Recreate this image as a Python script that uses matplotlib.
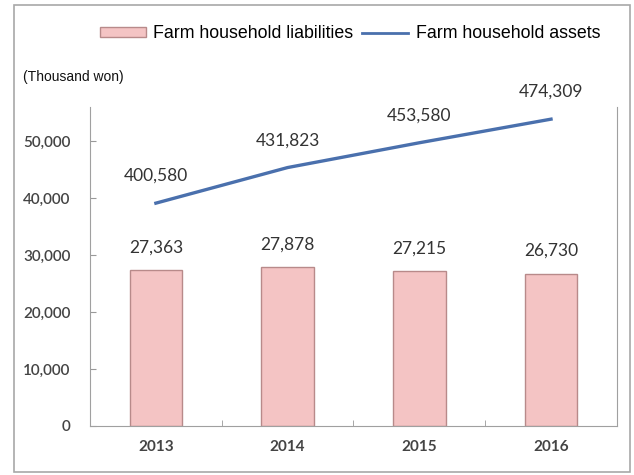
import matplotlib
matplotlib.use("Agg")
import matplotlib.pyplot as plt
from matplotlib.patches import Rectangle, Patch
from matplotlib.lines import Line2D

years = ["2013", "2014", "2015", "2016"]
liabilities = [27363, 27878, 27215, 26730]
assets = [400580, 431823, 453580, 474309]
yticks = [0, 10000, 20000, 30000, 40000, 50000]

narrow = "Liberation Sans"
numfont = "Lato"

fig = plt.figure(figsize=(6.34, 4.75), dpi=100)
ax = fig.add_axes([0.1420, 0.1032, 0.8310, 0.6716])

x = [i + 0.5 for i in range(len(years))]
ax.bar(x, liabilities, width=0.4, color="#f4c4c4", edgecolor="#b88a8a", linewidth=1.0, zorder=2)
ax.set_xlim(0, 4)
ax.set_ylim(0, 56000)
ax.set_yticks(yticks)
ax.set_yticklabels([f"{v:,}" for v in yticks], fontfamily=numfont, fontsize=11,
                   color="#444444", fontweight="semibold")
ax.set_xticks(x)
ax.set_xticklabels(years, fontfamily=numfont, fontsize=11, color="#444444", fontweight="bold")
ax.tick_params(axis="x", length=0, pad=10)
ax.set_xticks([1, 2, 3], minor=True)
ax.tick_params(axis="x", which="minor", length=4, direction="in", color="#999999")
ax.tick_params(axis="y", length=4, direction="in", color="#999999", pad=14)
for s in ["left", "bottom", "right"]:
    ax.spines[s].set_color("#a0a0a0")
ax.spines["top"].set_visible(False)

for xi, v in zip(x, liabilities):
    ax.text(xi, v + 4000, f"{v:,}", ha="center", va="center", fontsize=12.5,
            fontfamily=numfont, color="#333333")

ax2 = ax.twinx()
ax2.set_ylim(205000, 485000)
ax2.plot(x, assets, color="#4a70ad", linewidth=2.4, zorder=3)
ax2.set_yticks([])
for s in ax2.spines.values():
    s.set_visible(False)
for xi, v in zip(x, assets):
    ax2.text(xi, v + 24000, f"{v:,}", ha="center", va="center", fontsize=12.5,
             fontfamily=numfont, color="#333333")

fig.text(23 / 634, 1 - 77 / 475, "(Thousand won)", fontfamily=narrow, fontsize=10,
         va="center", ha="left", color="#111111")

handles = [Patch(facecolor="#f4c4c4", edgecolor="#b88a8a"),
           Line2D([0], [0], color="#4a70ad", linewidth=2)]
fig.legend(handles, ["Farm household liabilities", "Farm household assets"],
           loc="center", bbox_to_anchor=(350 / 634, 1 - 34 / 475), ncol=2, frameon=False,
           prop={"family": narrow, "size": 12.8}, handlelength=2.6, handleheight=0.5,
           columnspacing=0.5, handletextpad=0.4)

fig.add_artist(Rectangle((14 / 634, 3 / 475), 616 / 634, 467 / 475, transform=fig.transFigure,
                         fill=False, edgecolor="#a8a8a8", linewidth=1.2))

fig.savefig("out.png", dpi=100)
